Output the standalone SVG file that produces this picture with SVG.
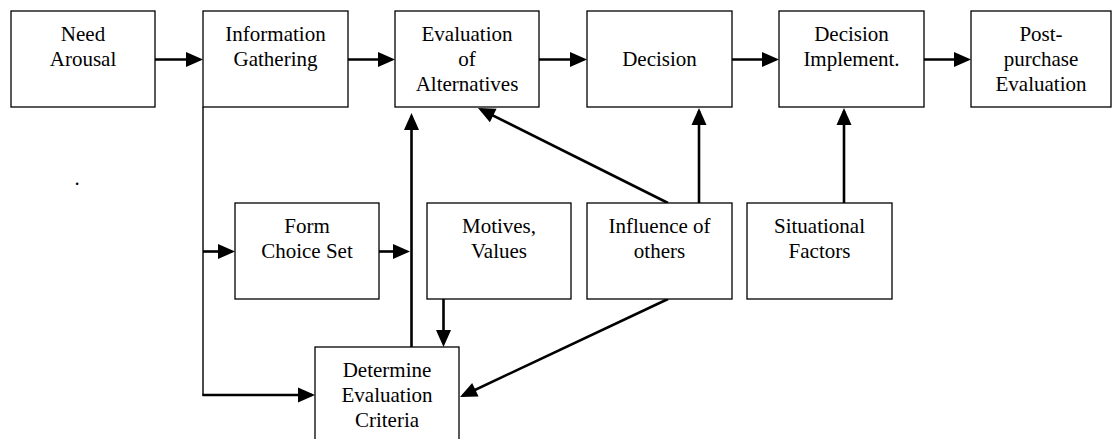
<svg xmlns="http://www.w3.org/2000/svg" width="1112" height="439" viewBox="0 0 1112 439">
<defs>
<marker id="ah" markerUnits="userSpaceOnUse" markerWidth="17" markerHeight="15" refX="14" refY="7.5" orient="auto" overflow="visible">
<path d="M0,0 L17,7.5 L0,15 z" fill="#000"/>
</marker>
<style>
.box{fill:#fff;stroke:#000;stroke-width:1.3}
.t{font-size:21px;fill:#000;text-anchor:middle}
.c{fill:none;stroke:#000;stroke-width:2.6}
.a{marker-end:url(#ah)}
.thin{fill:none;stroke:#000;stroke-width:1.4}
</style>
</defs>
<rect width="1112" height="439" fill="#fff"/>
<g id="connectors">
<line class="c a" x1="155" y1="59.5" x2="200" y2="59.5"/>
<line class="c a" x1="348" y1="59.5" x2="392" y2="59.5"/>
<line class="c a" x1="539" y1="59.5" x2="584" y2="59.5"/>
<line class="c a" x1="732" y1="59.5" x2="776" y2="59.5"/>
<line class="c a" x1="924" y1="59.5" x2="968" y2="59.5"/>
<line class="thin" x1="203" y1="107" x2="203" y2="396"/>
<line class="c a" x1="203" y1="251.5" x2="232" y2="251.5"/>
<line class="c a" x1="202.5" y1="395" x2="312" y2="395"/>
<line class="c a" x1="379" y1="251.5" x2="407" y2="251.5"/>
<line class="c a" x1="411.5" y1="347" x2="411.5" y2="116"/>
<line class="c a" x1="443.5" y1="299" x2="443.5" y2="344"/>
<line class="c a" x1="668" y1="299" x2="462.7" y2="395.7"/>
<line class="c a" x1="668" y1="203" x2="480.7" y2="109.3"/>
<line class="c a" x1="699" y1="203" x2="699" y2="111"/>
<line class="c a" x1="844" y1="203" x2="844" y2="111"/>
</g>
<g font-family="'Liberation Serif', 'Times New Roman', Times, serif">
<g id="need-arousal">
<rect class="box" x="11" y="11" width="144" height="96"/>
<text class="t" x="83" y="41">Need</text>
<text class="t" x="83" y="66">Arousal</text>
</g>
<g id="information-gathering">
<rect class="box" x="203" y="11" width="145" height="96"/>
<text class="t" x="275.5" y="41">Information</text>
<text class="t" x="275.5" y="66">Gathering</text>
</g>
<g id="evaluation-of-alternatives">
<rect class="box" x="395" y="11" width="144" height="96"/>
<text class="t" x="467" y="41">Evaluation</text>
<text class="t" x="467" y="65.5">of</text>
<text class="t" x="467" y="90.5">Alternatives</text>
</g>
<g id="decision">
<rect class="box" x="587" y="11" width="145" height="96"/>
<text class="t" x="659.5" y="66">Decision</text>
</g>
<g id="decision-implement">
<rect class="box" x="779" y="11" width="145" height="96"/>
<text class="t" x="851.5" y="41">Decision</text>
<text class="t" x="851.5" y="66">Implement.</text>
</g>
<g id="post-purchase-evaluation">
<rect class="box" x="971" y="11" width="140" height="96"/>
<text class="t" x="1041" y="41">Post-</text>
<text class="t" x="1041" y="66">purchase</text>
<text class="t" x="1041" y="90.5">Evaluation</text>
</g>
<g id="dot">
<text class="t" x="77" y="185">.</text>
</g>
<g id="form-choice-set">
<rect class="box" x="235" y="203" width="144" height="96"/>
<text class="t" x="307" y="233">Form</text>
<text class="t" x="307" y="258">Choice Set</text>
</g>
<g id="motives-values">
<rect class="box" x="427" y="203" width="144" height="96"/>
<text class="t" x="499" y="233">Motives,</text>
<text class="t" x="499" y="258">Values</text>
</g>
<g id="influence-of-others">
<rect class="box" x="587" y="203" width="145" height="96"/>
<text class="t" x="659.5" y="233">Influence of</text>
<text class="t" x="659.5" y="258">others</text>
</g>
<g id="situational-factors">
<rect class="box" x="747" y="203" width="145" height="96"/>
<text class="t" x="819.5" y="233">Situational</text>
<text class="t" x="819.5" y="258">Factors</text>
</g>
<g id="determine-evaluation-criteria">
<rect class="box" x="315" y="347" width="144" height="96"/>
<text class="t" x="387" y="377">Determine</text>
<text class="t" x="387" y="402">Evaluation</text>
<text class="t" x="387" y="427">Criteria</text>
</g>
</g>
</svg>
